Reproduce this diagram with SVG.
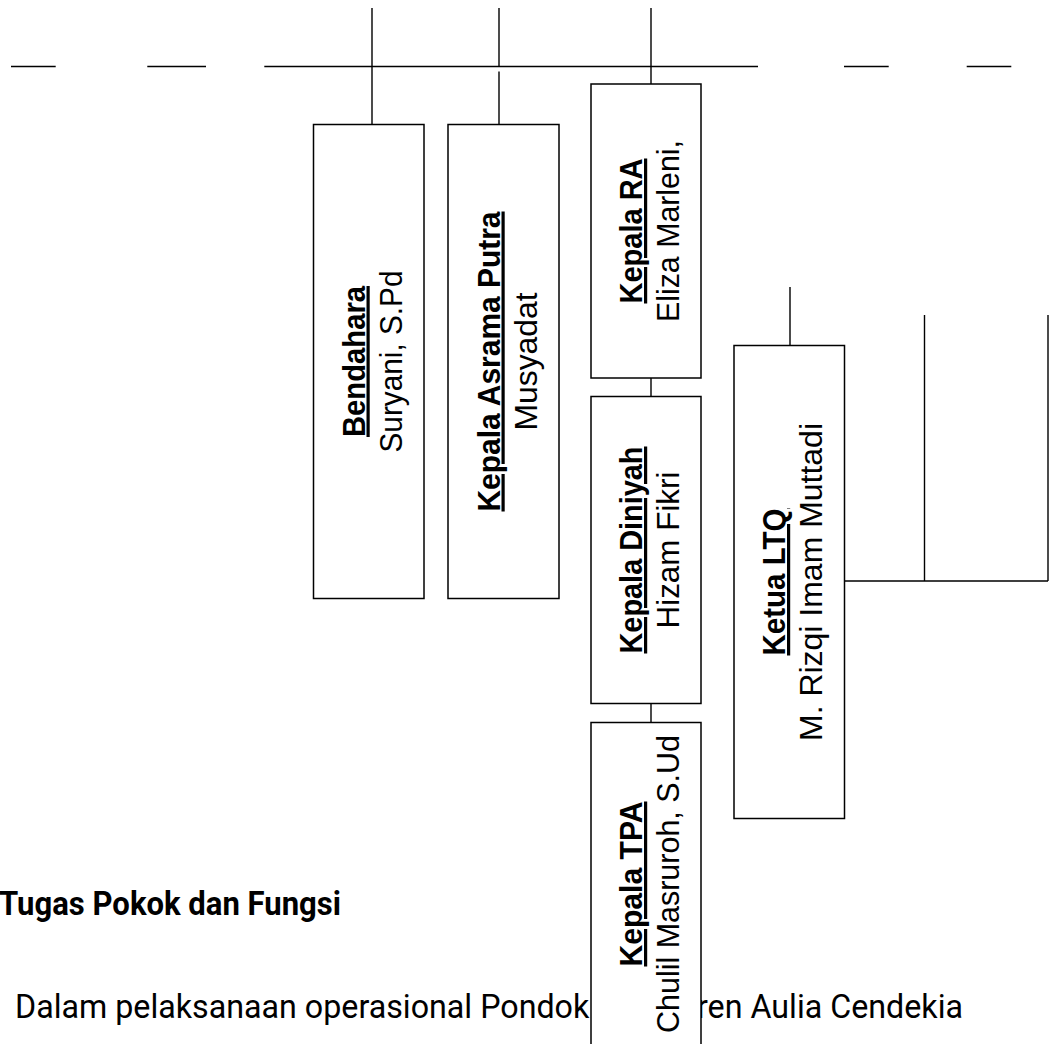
<svg xmlns="http://www.w3.org/2000/svg" width="1049" height="1044" viewBox="0 0 1049 1044">
<style>
.box{fill:#fff;stroke:#000;stroke-width:1.5}
.con{fill:none;stroke:#000;stroke-width:1.4}
.t{font-family:"Liberation Sans",Arial,sans-serif;font-size:32px;font-weight:bold;text-decoration:underline;fill:#000}
.n{font-family:"Liberation Sans",Arial,sans-serif;font-size:32px;fill:#000}
.body{font-family:Roboto,"Noto Sans",sans-serif;fill:#000}
</style>
<rect width="1049" height="1044" fill="#fff"/>
<g id="body-text">
<text class="body" x="-1" y="915" font-size="34" font-weight="bold" textLength="342" lengthAdjust="spacingAndGlyphs">Tugas Pokok dan Fungsi</text>
<text class="body" x="15" y="1018" font-size="32.5" textLength="948" lengthAdjust="spacingAndGlyphs">Dalam pelaksanaan operasional Pondok Pesantren Aulia Cendekia</text>
</g>
<g id="connectors">
<path class="con" d="M11 66.5H55.7M147.3 66.5H206M264.3 66.5H758M844 66.5H888.7M966.7 66.5H1011.3"/>
<path class="con" d="M372 8V124.5M499 8V66.5M499 71.5V124.5M651 8V84M651 378V396.5M651 703.5V722.5"/>
<path class="con" d="M790 287V345.5M924.5 315V581M1048 315V581M844 581H1048"/>
</g>
<g id="node-bendahara">
<rect class="box" x="313.5" y="124.5" width="110.5" height="474"/>
<text class="t" transform="translate(364.5,361.5) rotate(-90)" text-anchor="middle" textLength="151" lengthAdjust="spacingAndGlyphs">Bendahara</text>
<text class="n" transform="translate(401.5,361.5) rotate(-90)" text-anchor="middle" textLength="182" lengthAdjust="spacingAndGlyphs">Suryani, S.Pd</text>
</g>
<g id="node-asrama">
<rect class="box" x="448" y="124.5" width="111" height="474"/>
<text class="t" transform="translate(499.5,361.5) rotate(-90)" text-anchor="middle" textLength="300" lengthAdjust="spacingAndGlyphs">Kepala Asrama Putra</text>
<text class="n" transform="translate(536.5,361.5) rotate(-90)" text-anchor="middle" textLength="138" lengthAdjust="spacingAndGlyphs">Musyadat</text>
</g>
<g id="node-ra">
<rect class="box" x="591" y="84" width="110" height="294"/>
<text class="t" transform="translate(642,231) rotate(-90)" text-anchor="middle" textLength="145" lengthAdjust="spacingAndGlyphs">Kepala RA</text>
<text class="n" transform="translate(679,231) rotate(-90)" text-anchor="middle" textLength="182" lengthAdjust="spacingAndGlyphs">Eliza Marleni,</text>
</g>
<g id="node-diniyah">
<rect class="box" x="591" y="396.5" width="110" height="307"/>
<text class="t" transform="translate(642,550) rotate(-90)" text-anchor="middle" textLength="207" lengthAdjust="spacingAndGlyphs">Kepala Diniyah</text>
<text class="n" transform="translate(679,550) rotate(-90)" text-anchor="middle" textLength="157" lengthAdjust="spacingAndGlyphs">Hizam Fikri</text>
</g>
<g id="node-tpa">
<rect class="box" x="591" y="722.5" width="110" height="323"/>
<text class="t" transform="translate(642,884) rotate(-90)" text-anchor="middle" textLength="165" lengthAdjust="spacingAndGlyphs">Kepala TPA</text>
<text class="n" transform="translate(679,884) rotate(-90)" text-anchor="middle" textLength="298" lengthAdjust="spacingAndGlyphs">Chulil Masruroh, S.Ud</text>
</g>
<g id="node-ltq">
<rect class="box" x="734" y="345.5" width="110.5" height="473"/>
<text class="t" transform="translate(785,582) rotate(-90)" text-anchor="middle" textLength="147" lengthAdjust="spacingAndGlyphs">Ketua LTQ</text>
<text class="n" transform="translate(822,582) rotate(-90)" text-anchor="middle" textLength="318" lengthAdjust="spacingAndGlyphs">M. Rizqi Imam Muttadi</text>
</g>
</svg>
